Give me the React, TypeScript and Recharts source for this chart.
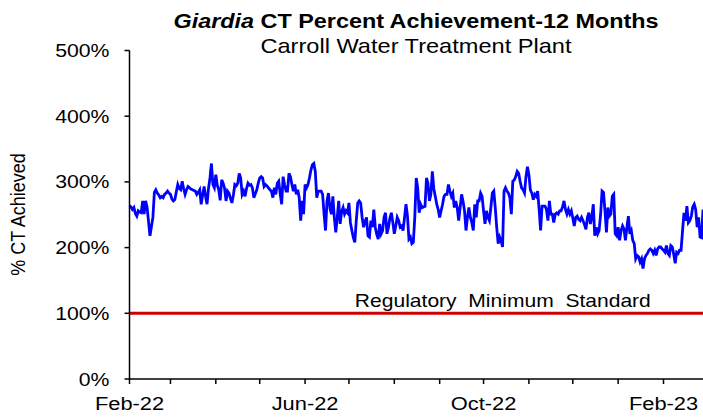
import { LineChart, Line, XAxis, YAxis, ReferenceLine } from "recharts";

// daily % CT achieved, Feb 1 2022 -> Feb 28 2023
const feb22 = [264, 262, 258, 261, 252, 248, 256, 254, 253, 271, 251, 271, 262, 240, 218, 232, 246, 284, 288, 283, 280, 276, 278, 276, 281, 283, 286, 283];
const mar22 = [281, 274, 271, 273, 285, 296, 290, 288, 301, 290, 281, 288, 293, 291, 289, 288, 287, 286, 281, 284, 288, 266, 280, 293, 278, 266, 290, 306, 328, 296, 291];
const apr22 = [311, 295, 288, 272, 303, 298, 290, 271, 286, 283, 275, 268, 280, 296, 294, 298, 313, 306, 281, 286, 278, 290, 298, 295, 296, 291, 276, 282, 288, 298];
const may22 = [306, 308, 306, 293, 296, 294, 291, 288, 286, 276, 291, 281, 298, 301, 282, 266, 308, 296, 286, 286, 313, 308, 296, 286, 296, 281, 288, 276, 241, 271, 251];
const jun22 = [296, 291, 296, 306, 318, 326, 328, 316, 276, 286, 286, 286, 281, 251, 226, 271, 283, 260, 251, 278, 246, 223, 246, 271, 236, 255, 261, 251, 256, 253];
const jul22 = [268, 238, 226, 215, 208, 241, 268, 271, 268, 246, 231, 240, 246, 218, 216, 241, 231, 258, 231, 220, 213, 236, 221, 226, 246, 253, 221, 231, 245, 253, 238];
const aug22 = [221, 233, 246, 241, 231, 233, 226, 246, 266, 248, 213, 216, 206, 208, 246, 306, 291, 253, 266, 261, 262, 263, 306, 298, 271, 281, 316, 290, 278, 266, 258];
const sep22 = [246, 256, 266, 278, 281, 281, 296, 286, 278, 283, 261, 271, 261, 241, 261, 281, 270, 256, 226, 246, 261, 246, 238, 226, 266, 246, 271, 271, 283, 278];
const oct22 = [256, 236, 256, 246, 241, 261, 283, 286, 261, 231, 206, 216, 210, 201, 286, 291, 286, 283, 276, 251, 301, 303, 308, 316, 313, 301, 291, 288, 283, 308, 323];
const nov22 = [311, 288, 283, 273, 281, 278, 286, 258, 226, 263, 263, 263, 258, 241, 271, 251, 251, 238, 251, 253, 251, 256, 256, 262, 271, 258, 251, 258, 251, 256];
const dec22 = [245, 233, 246, 248, 243, 241, 246, 241, 235, 228, 246, 253, 236, 246, 266, 218, 231, 221, 226, 250, 286, 284, 256, 223, 261, 248, 251, 278, 281, 221, 218];
const jan23 = [231, 211, 226, 233, 228, 211, 231, 248, 221, 226, 211, 206, 183, 188, 186, 178, 183, 168, 183, 188, 191, 196, 198, 196, 191, 196, 188, 198, 201, 201, 198];
const feb23 = [196, 193, 203, 191, 188, 203, 201, 190, 176, 193, 191, 196, 196, 225, 253, 241, 263, 238, 241, 248, 262, 266, 258, 231, 246, 216, 215, 258];

// day offsets (from Feb 1 2022) of each month start
const monthStarts = [0, 28, 59, 89, 120, 150, 181, 212, 242, 273, 303, 334, 365];
const labelDays = [0, 120, 242, 365];
const labelText = ["Feb-22", "Jun-22", "Oct-22", "Feb-23"];

const yTicks = [0, 100, 200, 300, 400, 500];
const regulatoryMin = 100;

const pct = [...feb22, ...mar22, ...apr22, ...may22, ...jun22, ...jul22, ...aug22, ...sep22, ...oct22, ...nov22, ...dec22, ...jan23, ...feb23];
const data = pct.map((v, i) => ({ day: i, pct: v }));

const FONT = "'Liberation Sans', Arial, sans-serif";

const XTick = (props: any) => {
  const { x, y, payload } = props;
  const idx = labelDays.indexOf(payload.value);
  if (idx < 0) return <g />;
  return (
    <g transform={`translate(${x},${y + 26}) scale(1.15,1)`}>
      <text textAnchor="middle" fontSize={19} fontFamily={FONT} fill="#000">
        {labelText[idx]}
      </text>
    </g>
  );
};

const YTick = (props: any) => {
  const { x, y, payload } = props;
  return (
    <g transform={`translate(${x},${y + 6.5}) scale(1.18,1)`}>
      <text textAnchor="end" fontSize={18} fontFamily={FONT} fill="#000">
        {payload.value}%
      </text>
    </g>
  );
};

const RegLabel = (props: any) => {
  const vb = props.viewBox || {};
  const cx = vb.x + vb.width * 0.651;
  return (
    <g transform={`translate(${cx},${vb.y - 6.5}) scale(1.17,1)`}>
      <text textAnchor="middle" fontSize={18} fontFamily={FONT} fill="#000" style={{ whiteSpace: "pre" }}>
        {"Regulatory  Minimum  Standard"}
      </text>
    </g>
  );
};

export default function App() {
  return (
    <div style={{ position: "absolute", left: 0, top: 0, width: 703, height: 417, background: "#fff", overflow: "hidden" }}>
      <LineChart width={703} height={417} data={data} margin={{ top: 50.5, right: 0, bottom: 0, left: 0 }}>
        <XAxis
          dataKey="day"
          type="number"
          domain={[0, 392]}
          ticks={monthStarts}
          interval={0}
          height={38}
          tickSize={5}
          tickMargin={0}
          tick={XTick}
          axisLine={{ stroke: "#000", strokeWidth: 1.5 }}
          tickLine={{ stroke: "#000", strokeWidth: 1.5 }}
        />
        <YAxis
          type="number"
          domain={[0, 500]}
          ticks={yTicks}
          interval={0}
          width={129.5}
          tickSize={5}
          tickMargin={15}
          tick={YTick}
          axisLine={{ stroke: "#000", strokeWidth: 1.5 }}
          tickLine={{ stroke: "#000", strokeWidth: 1.5 }}
        />
        <ReferenceLine
          y={regulatoryMin}
          stroke="#CC0000"
          strokeWidth={3}
          label={(p: any) => <RegLabel {...p} />}
        />
        <Line
          type="linear"
          dataKey="pct"
          stroke="#0000FF"
          strokeWidth={2.8}
          dot={false}
          activeDot={false}
          isAnimationActive={false}
        />
      </LineChart>
      <svg width={703} height={417} style={{ position: "absolute", left: 0, top: 0, pointerEvents: "none" }}>
        <g transform="translate(416,28) scale(1.17,1)">
          <text textAnchor="middle" fontSize={20} fontWeight="bold" fontFamily={FONT} fill="#000">
            <tspan fontStyle="italic">Giardia</tspan> CT Percent Achievement-12 Months
          </text>
        </g>
        <g transform="translate(416,52.5) scale(1.18,1)">
          <text textAnchor="middle" fontSize={20} fontFamily={FONT} fill="#000">
            Carroll Water Treatment Plant
          </text>
        </g>
        <g transform="translate(25,214.5) rotate(-90) scale(1,1.17)">
          <text textAnchor="middle" fontSize={18} fontFamily={FONT} fill="#000">
            % CT Achieved
          </text>
        </g>
      </svg>
    </div>
  );
}
